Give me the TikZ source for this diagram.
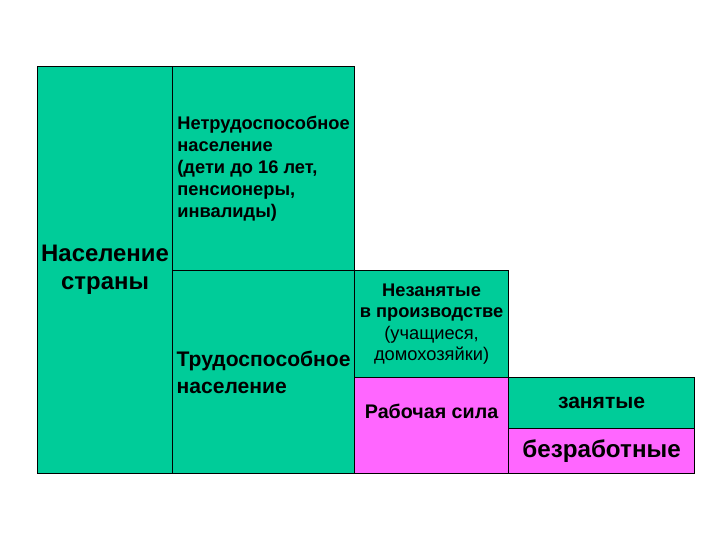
\documentclass[tikz,border=0pt]{standalone}
\usepackage{fontspec}
\setmainfont{Liberation Sans}
\definecolor{zelen}{RGB}{0,204,153}
\definecolor{rozov}{RGB}{255,102,255}
\begin{document}
\begin{tikzpicture}[x=0.25mm,y=-0.25mm,
	kletka/.style={draw=black, line width=0.8pt, inner sep=0pt, anchor=north west, align=center},
	zel/.style={kletka, fill=zelen},
	roz/.style={kletka, fill=rozov}]
	\useasboundingbox (0,0) rectangle (720,540);

	\node[zel, minimum width=33.75mm, minimum height=101.75mm, font=\fontsize{17}{20}\selectfont\bfseries] (strana) at (37,66) {Население\\страны};
	\node[zel, minimum width=45.5mm, minimum height=51mm, align=left, font=\fontsize{13}{15.6}\selectfont\bfseries] (netrud) at (172,66) {Нетрудоспособное\\население\\(дети до 16 лет,\\пенсионеры,\\инвалиды)};
	\node[zel, minimum width=45.5mm, minimum height=50.75mm, align=left, font=\fontsize{15}{19}\selectfont\bfseries] (trud) at (172,270) {Трудоспособное\\население};

	\node[zel, minimum width=38.5mm, minimum height=26.75mm, font=\fontsize{13}{15}\selectfont] (nezan) at (354,270) {\textbf{Незанятые}\\\textbf{в производстве}\\(учащиеся,\\домохозяйки)};
	\node[roz, minimum width=38.5mm, minimum height=24mm, font=\fontsize{14}{17}\selectfont\bfseries] (rabsila) at (354,377) {Рабочая сила\\[3pt]};

	\node[zel, minimum width=46.5mm, minimum height=12.75mm, font=\fontsize{15}{18}\selectfont\bfseries] (zan) at (508,377) {занятые};
	\node[roz, minimum width=46.5mm, minimum height=11.25mm, font=\fontsize{17.2}{21}\selectfont\bfseries] (bezrab) at (508,428) {безработные};
\end{tikzpicture}
\end{document}
